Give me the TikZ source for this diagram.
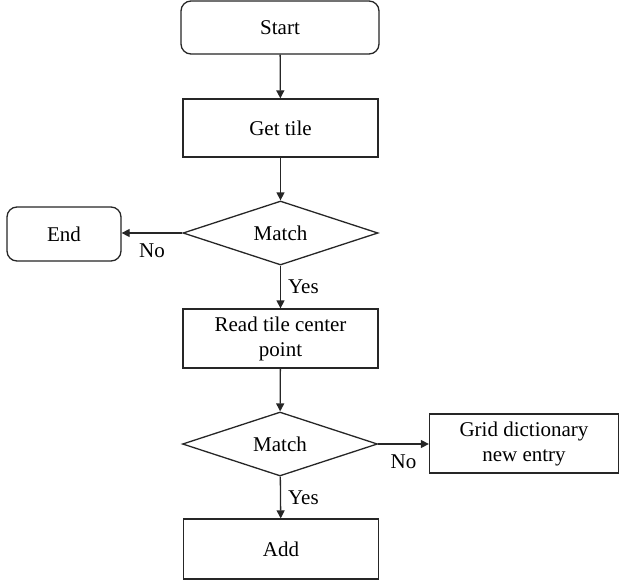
\documentclass[tikz,border=0pt]{standalone}
\usepackage{fontspec}
\setmainfont{Liberation Serif}
\usetikzlibrary{arrows.meta,shapes.geometric}
\tikzset{
  box/.style={draw=black!85, line width=1.3pt, fill=white, align=center,
    font=\fontsize{21}{25}\selectfont, inner sep=2pt},
  terminal/.style={box, rounded corners=10pt},
  process/.style={box},
  decision/.style={box, diamond, aspect=3, inner sep=0pt},
  flow/.style={line width=1.3pt, draw=black!85, -{Triangle[length=8pt,width=8pt]}},
  lbl/.style={font=\fontsize{21}{25}\selectfont, inner sep=3pt}
}

\begin{document}
\begin{tikzpicture}[x=1pt,y=-1pt]
\useasboundingbox (0,0) rectangle (620,581);

\node[terminal, minimum width=198pt, minimum height=53pt] (start) at (280,27.5) {Start};
\node[process, minimum width=195pt, minimum height=58pt] (tile) at (280.5,128) {Get tile};
\node[decision, minimum width=195pt, minimum height=64pt] (match1) at (280.5,233) {Match};
\node[terminal, minimum width=114pt, minimum height=54pt] (finish) at (64,234) {End};
\node[process, minimum width=195pt, minimum height=59pt] (centre) at (280.5,338.5) {Read tile center\\point};
\node[decision, minimum width=195pt, minimum height=64pt] (match2) at (280,444) {Match};
\node[process, minimum width=189pt, minimum height=59pt] (entry) at (524,443.5) {Grid dictionary\\new entry};
\node[process, minimum width=195pt, minimum height=60pt] (add) at (281,549) {Add};

\draw[flow] (start) -- (tile);
\draw[flow] (tile) -- (match1);
\draw[flow] (match1.west) -- node[lbl, below, yshift=-7pt] {No} (finish.east |- match1.west);
\draw[flow] (match1) -- node[lbl, right, xshift=4pt] {Yes} (centre);
\draw[flow] (centre) -- (match2);
\draw[flow] (match2.east) -- node[lbl, below, yshift=-7pt] {No} (entry.west |- match2.east);
\draw[flow] (match2) -- node[lbl, right, xshift=4pt] {Yes} (add);
\end{tikzpicture}
\end{document}
